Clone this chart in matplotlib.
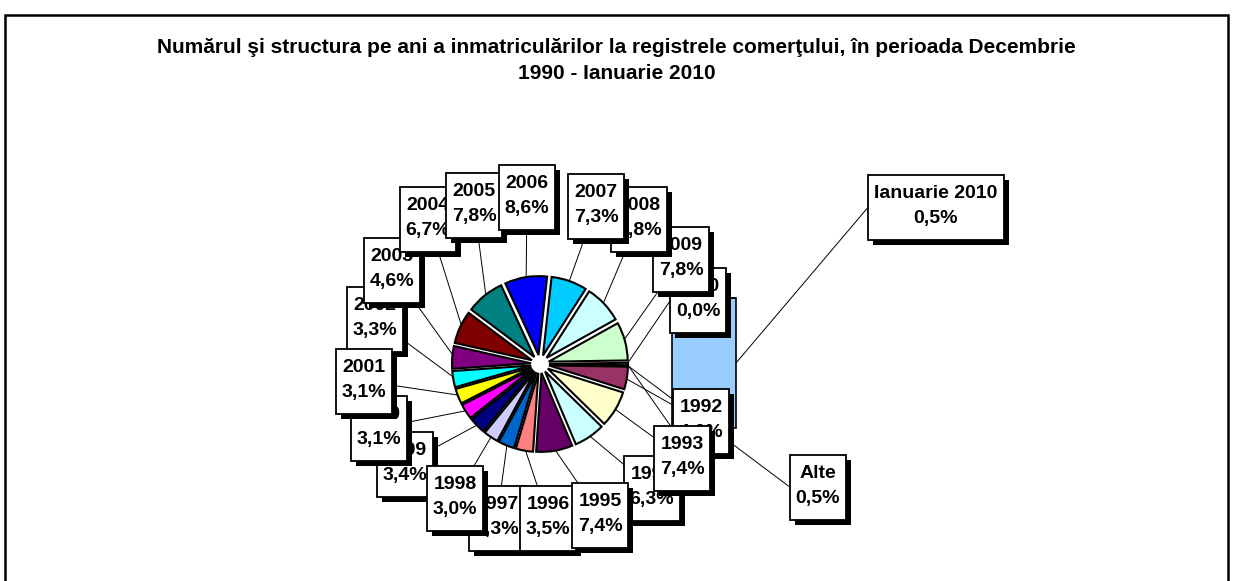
import matplotlib
matplotlib.use("Agg")
import matplotlib.pyplot as plt
import matplotlib.patheffects as pe
import numpy as np

W, H = 1233, 581

title_lines = ["Numărul şi structura pe ani a inmatriculărilor la registrele comerţului, "
               "în perioada Decembrie", "1990 - Ianuarie 2010"]

# pie: the combined "Alte" slice first, then the years going clockwise
pie_labels = ["Alte", "1992", "1993", "1994", "1995", "1996", "1997", "1998", "1999",
              "2000", "2001", "2002", "2003", "2004", "2005", "2006", "2007", "2008", "2009"]
pie_values = [0.5, 4.6, 7.4, 6.3, 7.4, 3.5, 3.3, 3.0, 3.4,
              3.1, 3.1, 3.3, 4.6, 6.7, 7.8, 8.6, 7.3, 7.8, 7.8]
pie_colors = ["#9999FF", "#993366", "#FFFFCC", "#CCFFFF", "#660066", "#FF8080", "#0066CC",
              "#CCCCFF", "#000080", "#FF00FF", "#FFFF00", "#00FFFF", "#800080", "#800000",
              "#008080", "#0000FF", "#00CCFF", "#CCFFFF", "#CCFFCC"]

# bar: what "Alte" is made of (bottom to top)
bar_labels = ["Ianuarie 2010", "1990"]
bar_values = [0.5, 0.0]
bar_color = "#99CCFF"

# layout (screen pixels, y down)
CX, CY = 540, 364
R = 79
EXPL = 9
BAR_X0, BAR_X1, BAR_TOP, BAR_BOT = 672, 736, 298, 428
BOX_H = 65
BOX_PAD = 6

label_pos = {
    "1992": (701, 421), "1993": (682, 458), "1994": (652, 488), "1995": (600, 515),
    "1996": (548, 518), "1997": (497, 518), "1998": (455, 498), "1999": (405, 464),
    "2000": (379, 428), "2001": (364, 381), "2002": (375, 319), "2003": (392, 270),
    "2004": (428, 219), "2005": (474, 205), "2006": (527, 197), "2007": (596, 206),
    "2008": (639, 219), "2009": (681, 259), "1990": (698, 300),
    "Ianuarie 2010": (936, 207), "Alte": (818, 487),
}
label_z = {
    "2001": 20, "2002": 15, "2003": 16, "2004": 17, "2005": 18, "2006": 19,
    "2000": 19, "1999": 17, "1998": 18, "1997": 16, "1996": 17, "1995": 18,
    "1994": 17, "1993": 19, "1992": 18, "2007": 19, "2008": 18, "2009": 17,
    "1990": 16, "Ianuarie 2010": 15, "Alte": 15,
}
# leader lines that end on the left side of the box instead of its centre
left_attach = {"Ianuarie 2010", "Alte"}

FONT = "Liberation Sans"


def sy(y):
    return H - y


def pct(v):
    return f"{v:.1f}".replace(".", ",") + "%"


fig = plt.figure(figsize=(W / 100, H / 100), dpi=100)
ax = fig.add_axes([0, 0, 1, 1])
renderer = fig.canvas.get_renderer()

total = sum(pie_values)
start = pie_values[0] / total * 360 / 2
wedges, _ = ax.pie(pie_values, colors=pie_colors, explode=[EXPL] * len(pie_values),
                   startangle=start, counterclock=False, radius=R, center=(CX, sy(CY)),
                   wedgeprops=dict(edgecolor="black", linewidth=1.5, zorder=2), frame=True)
ax.set_xlim(0, W)
ax.set_ylim(0, H)
ax.axis("off")

# stacked bar for the "Alte" slice
scale = (BAR_BOT - BAR_TOP) / sum(bar_values)
bottom = sy(BAR_BOT)
bar_mid = {}
for name, v in zip(bar_labels, bar_values):
    ax.bar((BAR_X0 + BAR_X1) / 2, v * scale, bottom=bottom, width=BAR_X1 - BAR_X0,
           color=bar_color, edgecolor="black", linewidth=1.2, zorder=3)
    bar_mid[name] = bottom + v * scale / 2
    bottom += v * scale

# series lines from the "Alte" slice to the bar
alte = wedges[0]
acx, acy = alte.center
for ang, yb in [(alte.theta2, sy(BAR_TOP)), (alte.theta1, sy(BAR_BOT))]:
    px = acx + R * np.cos(np.radians(ang))
    py = acy + R * np.sin(np.radians(ang))
    ax.plot([px, BAR_X0], [py, yb], color="black", lw=0.7, zorder=1)


def box(name, text, anchor):
    lx, ly = label_pos[name]
    z = label_z[name]
    t = ax.text(lx, sy(ly) + 1, text, ha="center", va="center", fontsize=14,
                fontweight="bold", family=FONT, linespacing=1.62, zorder=z + 0.5)
    bb = t.get_window_extent(renderer)
    bw = bb.width + 2 * BOX_PAD
    rect = plt.Rectangle((lx - bw / 2, sy(ly) - BOX_H / 2), bw, BOX_H, facecolor="white",
                         edgecolor="black", linewidth=1.3, zorder=z)
    rect.set_path_effects([
        pe.SimplePatchShadow(offset=(3.6, -3.6), shadow_rgbFace="black", alpha=1.0),
        pe.Normal()])
    ax.add_patch(rect)
    if anchor is not None:
        tx = lx - bw / 2 if name in left_attach else lx
        ax.plot([anchor[0], tx], [anchor[1], sy(ly)], color="black", lw=0.7, zorder=1)


for w, name, v in zip(wedges, pie_labels, pie_values):
    m = np.radians((w.theta1 + w.theta2) / 2)
    wx, wy = w.center
    anchor = (wx + R * 0.97 * np.cos(m), wy + R * 0.97 * np.sin(m))
    box(name, f"{name}\n{pct(v)}", anchor)

box("Ianuarie 2010", f"Ianuarie 2010\n{pct(bar_values[0])}", (BAR_X1, bar_mid["Ianuarie 2010"]))
box("1990", f"1990\n{pct(bar_values[1])}", None)

for i, line in enumerate(title_lines):
    fig.text(0.5, sy(53 + 26 * i) / H, line, ha="center", va="baseline", fontsize=15,
             fontweight="bold", family=FONT)

frame = plt.Rectangle((5 / W, -0.1), 1223 / W, 1.1 - 15 / H, transform=fig.transFigure,
                      fill=False, edgecolor="black", linewidth=1.8)
fig.patches.append(frame)

fig.savefig("out.png", dpi=100)
